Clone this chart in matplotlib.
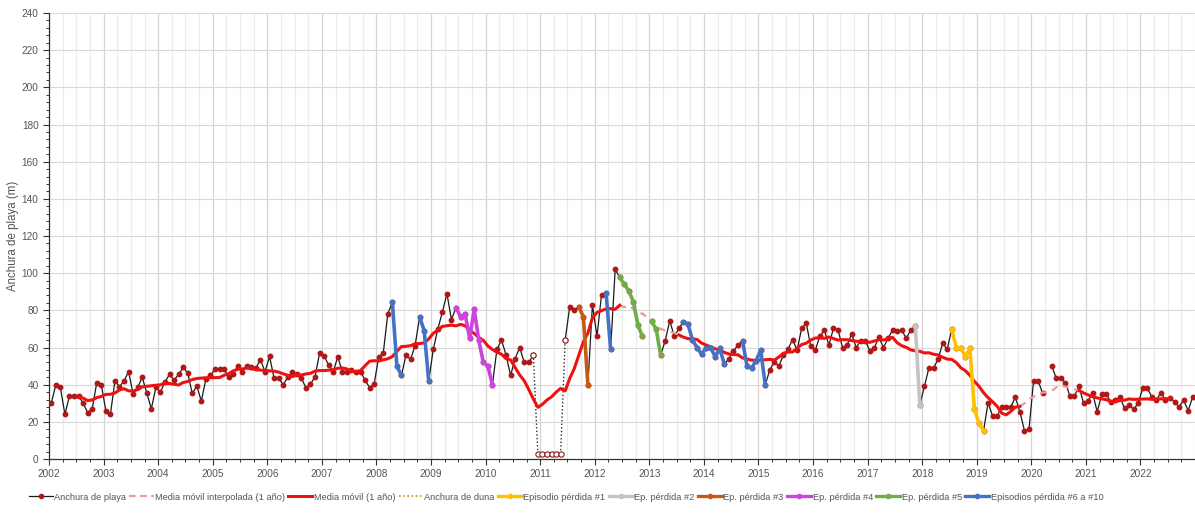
import numpy as np
import pandas as pd
import matplotlib
matplotlib.use("Agg")
import matplotlib.pyplot as plt
from matplotlib.ticker import MultipleLocator, FixedLocator
from matplotlib.lines import Line2D

plt.rcParams['font.family'] = ['Liberation Sans', 'DejaVu Sans']

# Monthly beach width (m), January 2002 onwards; None = no survey
start_year = 2002
beach_width = [
    30, 40, 38.5, 24, 34, 34, 34, 30, 25, 27, 41, 40,
    26, 24, 42, 39, 42, 47, 35, 38.5, 44, 35.5, 27, 38.5,
    36, 41.5, 45.5, 42.5, 45.5, 49.3, 46.4, 35.3, 39.2, 31.2, 43, 45,
    48.4, 48.4, 48.4, 44, 46, 50, 47, 50, 49.5, 49, 53.4, 47,
    55.2, 43.4, 43.4, 40, 44, 47, 45.7, 43.4, 38.4, 40.3, 44.3, 57,
    55.4, 50.5, 47, 55, 47, 47, 48, 47, 47, 42.5, 38.4, 40.3,
    55, 57, 78, 84.5, 50, 45, 56, 53.6, 61, 76.5, 69, 42,
    59, 70, 79, 89, 75, 81.5, 76.5, 78, 65, 80.5, 64, 52,
    50, 40, 59, 64, 56, 45, 54, 60, 52, 52, 56, None,
    None, None, None, None, None, 64, 82, 80, 82, 76.5, 40, 83,
    66, 88.5, 89.4, 59, 102, 97.7, 94, 90.5, 84.6, 72, 66, None,
    74, 70, 56, 63.6, 74.4, 66, 70.3, 73.8, 72.6, 64, 60, 56.3,
    60, 60, 55, 59.5, 51, 54, 58, 61.3, 63.6, 50, 49, 53,
    58.6, 39.8, 48, 52.3, 50, 56, 59, 64.3, 58.6, 70.3, 73.3, 60.7,
    58.6, 66, 69.4, 61.3, 70.3, 69.4, 60, 61.3, 67.2, 60, 63.6, 63.6,
    58.2, 60, 65.4, 60, 64.9, 69.4, 68.8, 69.4, 64.9, 69.4, 71.5, 29,
    39.2, 49, 49, 53.6, 62.2, 59, 69.7, 60, 60, 55, 59.5, 26.7,
    19.2, 15.2, 30.3, 23.1, 23.1, 28.1, 28.1, 28.1, 33.2, 25.4, 15.2, 16,
    42.1, 42.1, 35.3, None, 50, 43.4, 43.4, 41, 33.9, 33.9, 39.2, 30,
    31.4, 35.3, 25.4, 34.8, 34.8, 30.8, 31.7, 33.5, 27.2, 29, 26.7, 30,
    38, 38, 33.5, 31.7, 35.7, 31.7, 33, 30.8, 28.1, 31.7, 26, 33.5,
]

# Dune width (m) over the months where the beach disappeared
dune_months = [106, 107, 108, 109, 110, 111, 112, 113]
dune_width = [56, 2.5, 2.5, 2.5, 2.5, 2.5, 2.5, 64]

# Loss episodes as (first month, last month) index ranges
ep1_months = [(198, 205)]
ep2_months = [(190, 191)]
ep3_months = [(116, 118)]
ep4_months = [(89, 97)]
ep5_months = [(125, 130), (132, 134)]
ep6_10_months = [(75, 77), (81, 83), (122, 123), (139, 148), (152, 157)]

year_ticks = list(range(2002, 2023))

# ---------------------------------------------------------------
beach = pd.Series(beach_width, dtype=float)
t = start_year + (np.arange(len(beach)) + 0.5) / 12.0
dune = pd.Series(dune_width, index=dune_months, dtype=float)

filled = beach.copy()
filled.loc[dune.index] = filled.loc[dune.index].fillna(dune)
moving = filled.rolling(12, center=True).mean()
moving_interp = filled.interpolate(limit_area='inside').rolling(12, center=True).mean()
gap = moving.isna()
gap_ext = gap | gap.shift(1, fill_value=False) | gap.shift(-1, fill_value=False)
moving_dashed = moving_interp.where(gap_ext)

fig = plt.figure(figsize=(11.95, 5.18), dpi=100)
ax = fig.add_axes([49 / 1195, 1 - 459 / 518, 1 - 49 / 1195, (459 - 13) / 518])

dot_red = '#B01818'
c_ep1 = '#FFC000'
c_ep2 = '#C4C4C4'
c_ep3 = '#C55A11'
c_ep4 = '#CC44E0'
c_ep5 = '#70AD47'
c_ep6 = '#4472C4'
c_ma = '#EE1111'
c_interp = '#EE9A9A'
c_dune = '#C0922A'

# Beach width
ax.plot(t, beach.values, color='#1a1a1a', lw=0.9, marker='o', ms=3.2,
        mfc=dot_red, mec=dot_red, zorder=3)

# Dune width
td = start_year + (np.array(dune_months) + 0.5) / 12.0
ax.plot(td, dune.values, color='#2a2a2a', lw=1.0, ls=(0, (1, 1.6)),
        marker='o', ms=3.8, mfc='white', mec='#8B1A1A', mew=0.8, zorder=3.5)

# Moving averages
ax.plot(t, moving_dashed.values, color=c_interp, lw=1.6, ls=(0, (3, 2.5)), zorder=4)
ax.plot(t, moving.values, color=c_ma, lw=2.2, zorder=4.5)

# Loss episodes, drawn over the beach series
def draw_episode(ranges, color, lw=2.6):
    for a, b in ranges:
        idx = np.arange(a, b + 1)
        ax.plot(t[idx], beach.values[idx], color=color, lw=lw, marker='o', ms=3.0,
                mfc=color, mec=color, zorder=5, solid_capstyle='round')

draw_episode(ep1_months, c_ep1)
draw_episode(ep2_months, c_ep2)
draw_episode(ep3_months, c_ep3)
draw_episode(ep4_months, c_ep4)
draw_episode(ep5_months, c_ep5)
draw_episode(ep6_10_months, c_ep6)

# Axes styling
ax.set_xlim(2002, 2023)
ax.set_ylim(0, 240)
ax.xaxis.set_major_locator(FixedLocator(year_ticks))
ax.xaxis.set_major_formatter(plt.FuncFormatter(lambda v, p: f"{int(round(v))}"))
ax.xaxis.set_minor_locator(MultipleLocator(0.25))
ax.yaxis.set_major_locator(MultipleLocator(20))
ax.yaxis.set_minor_locator(MultipleLocator(4))

ax.grid(True, which='major', axis='y', color='#d9d9d9', lw=0.8)
ax.grid(True, which='major', axis='x', color='#d4d4d4', lw=0.9)
ax.grid(True, which='minor', axis='x', color='#ececec', lw=0.8)
ax.set_axisbelow(True)

for side in ('top', 'right'):
    ax.spines[side].set_visible(False)
for side in ('left', 'bottom'):
    ax.spines[side].set_color('#333333')
    ax.spines[side].set_linewidth(0.9)

ax.tick_params(axis='both', which='major', labelsize=7.2, labelcolor='#555555',
               color='#333333', length=4, width=0.8)
ax.tick_params(axis='both', which='minor', color='#333333', length=2.5, width=0.7)
ax.set_ylabel('Anchura de playa (m)', fontsize=8.3, color='#555555', labelpad=2)

# Legend
handles = [
    Line2D([], [], color='#1a1a1a', lw=0.9, marker='o', ms=3.0, mfc=dot_red, mec=dot_red),
    Line2D([], [], color=c_interp, lw=1.6, ls=(0, (3, 2))),
    Line2D([], [], color=c_ma, lw=2.2),
    Line2D([], [], color=c_dune, lw=1.2, ls=(0, (1, 1.5))),
    Line2D([], [], color=c_ep1, lw=2.4, marker='o', ms=3.0),
    Line2D([], [], color=c_ep2, lw=2.4, marker='o', ms=3.0),
    Line2D([], [], color=c_ep3, lw=2.4, marker='o', ms=3.0),
    Line2D([], [], color=c_ep4, lw=2.4, marker='o', ms=3.0),
    Line2D([], [], color=c_ep5, lw=2.4, marker='o', ms=3.0),
    Line2D([], [], color=c_ep6, lw=2.4, marker='o', ms=3.0),
]
labels = ['Anchura de playa', 'Media móvil interpolada (1 año)', 'Media móvil (1 año)',
          'Anchura de duna', 'Episodio pérdida #1', 'Ep. pérdida #2', 'Ep. pérdida #3',
          'Ep. pérdida #4', 'Ep. pérdida #5', 'Episodios pérdida #6 a #10']
leg = fig.legend(handles, labels, loc='center', bbox_to_anchor=(566 / 1195, 1 - 497 / 518),
                 ncol=10, frameon=False, fontsize=6.7, handlelength=2.6,
                 handletextpad=0.15, columnspacing=0.35, borderaxespad=0)
for txt in leg.get_texts():
    txt.set_color('#555555')

fig.savefig('out.png', dpi=100)
